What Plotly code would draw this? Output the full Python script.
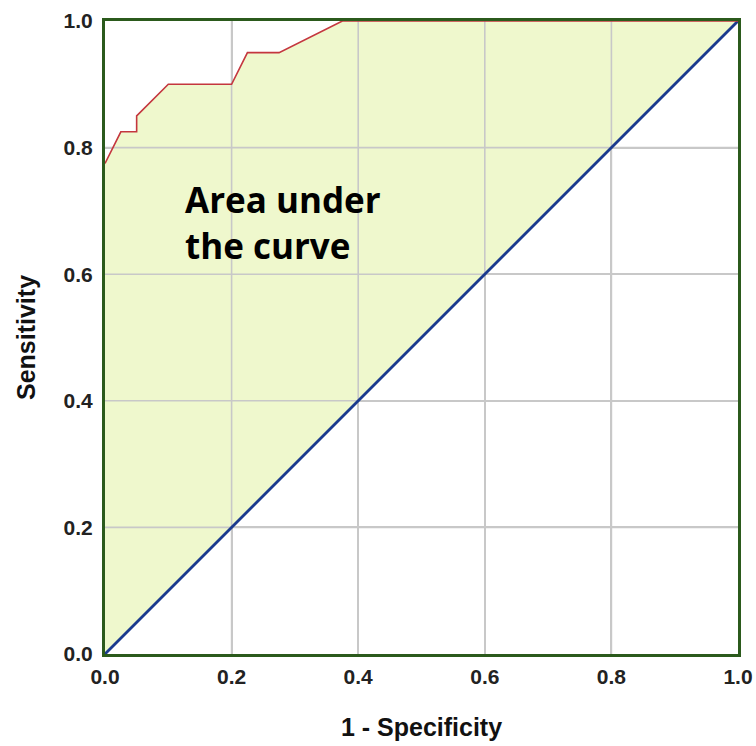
import plotly.graph_objects as go

# ROC curve points (1 - specificity, sensitivity)
fpr = [0.0, 0.025, 0.05, 0.05, 0.1, 0.2, 0.225, 0.275, 0.375, 1.0]
tpr = [0.775, 0.825, 0.825, 0.85, 0.9, 0.9, 0.95, 0.95, 1.0, 1.0]

# reference (chance) line
ref_x = [0.0, 1.0]
ref_y = [0.0, 1.0]

tick_vals = [0.0, 0.2, 0.4, 0.6, 0.8, 1.0]
tick_text = ["0.0", "0.2", "0.4", "0.6", "0.8", "1.0"]

fill_color = "#EFF8CD"
grid_color = "#C8C8C8"
curve_color = "#C4363E"
ref_color = "#1B3A8E"
frame_color = "#2B5A1C"

fig = go.Figure()

# shaded area between ROC curve and diagonal
poly_x = fpr + ref_x[::-1] + [fpr[0]]
poly_y = tpr + ref_y[::-1] + [tpr[0]]
fig.add_trace(go.Scatter(x=poly_x, y=poly_y, mode="lines", fill="toself",
                         fillcolor=fill_color, line=dict(width=0),
                         hoverinfo="skip", showlegend=False))

# grid lines drawn above the fill
gx, gy = [], []
for v in tick_vals[1:-1]:
    gx += [v, v, None]
    gy += [0, 1, None]
    gx += [0, 1, None]
    gy += [v, v, None]
fig.add_trace(go.Scatter(x=gx, y=gy, mode="lines",
                         line=dict(color=grid_color, width=1.6),
                         hoverinfo="skip", showlegend=False))

fig.add_trace(go.Scatter(x=ref_x, y=ref_y, mode="lines",
                         line=dict(color=ref_color, width=2.8),
                         showlegend=False))
fig.add_trace(go.Scatter(x=fpr, y=tpr, mode="lines",
                         line=dict(color=curve_color, width=1.6),
                         showlegend=False))

fig.add_annotation(x=0.123, y=0.758, xref="x", yref="y",
                   text="<b>Area under<br>the curve</b>", showarrow=False,
                   xanchor="left", yanchor="top", align="left",
                   font=dict(family="Open Sans", size=35, color="#000000"))

axis_common = dict(range=[0, 1], tickvals=tick_vals, ticktext=tick_text,
                   showgrid=True, gridcolor=grid_color, gridwidth=1.6,
                   zeroline=False, showline=True, linecolor=frame_color,
                   linewidth=3, mirror=True, automargin=False,
                   layer="above traces",
                   ticklabeloverflow="allow",
                   ticks="outside", tickcolor="rgba(0,0,0,0)",
                   tickfont=dict(family="Liberation Sans", size=21,
                                 color="#222222", weight="bold"),
                   title_font=dict(family="Liberation Sans", size=25,
                                   color="#111111", weight="bold"))

fig.update_xaxes(**axis_common, ticklen=2, title_text="1 - Specificity",
                 title_standoff=32)
fig.update_yaxes(**axis_common, ticklen=5, title_text="Sensitivity",
                 title_standoff=21)

fig.update_layout(width=756, height=746,
                  margin=dict(l=105, r=18, t=21, b=92),
                  paper_bgcolor="white", plot_bgcolor="white")

fig.write_html("out.html", config={"displayModeBar": False},
               post_script="document.body.style.margin='0';"
                           "document.body.style.overflow='hidden';")
